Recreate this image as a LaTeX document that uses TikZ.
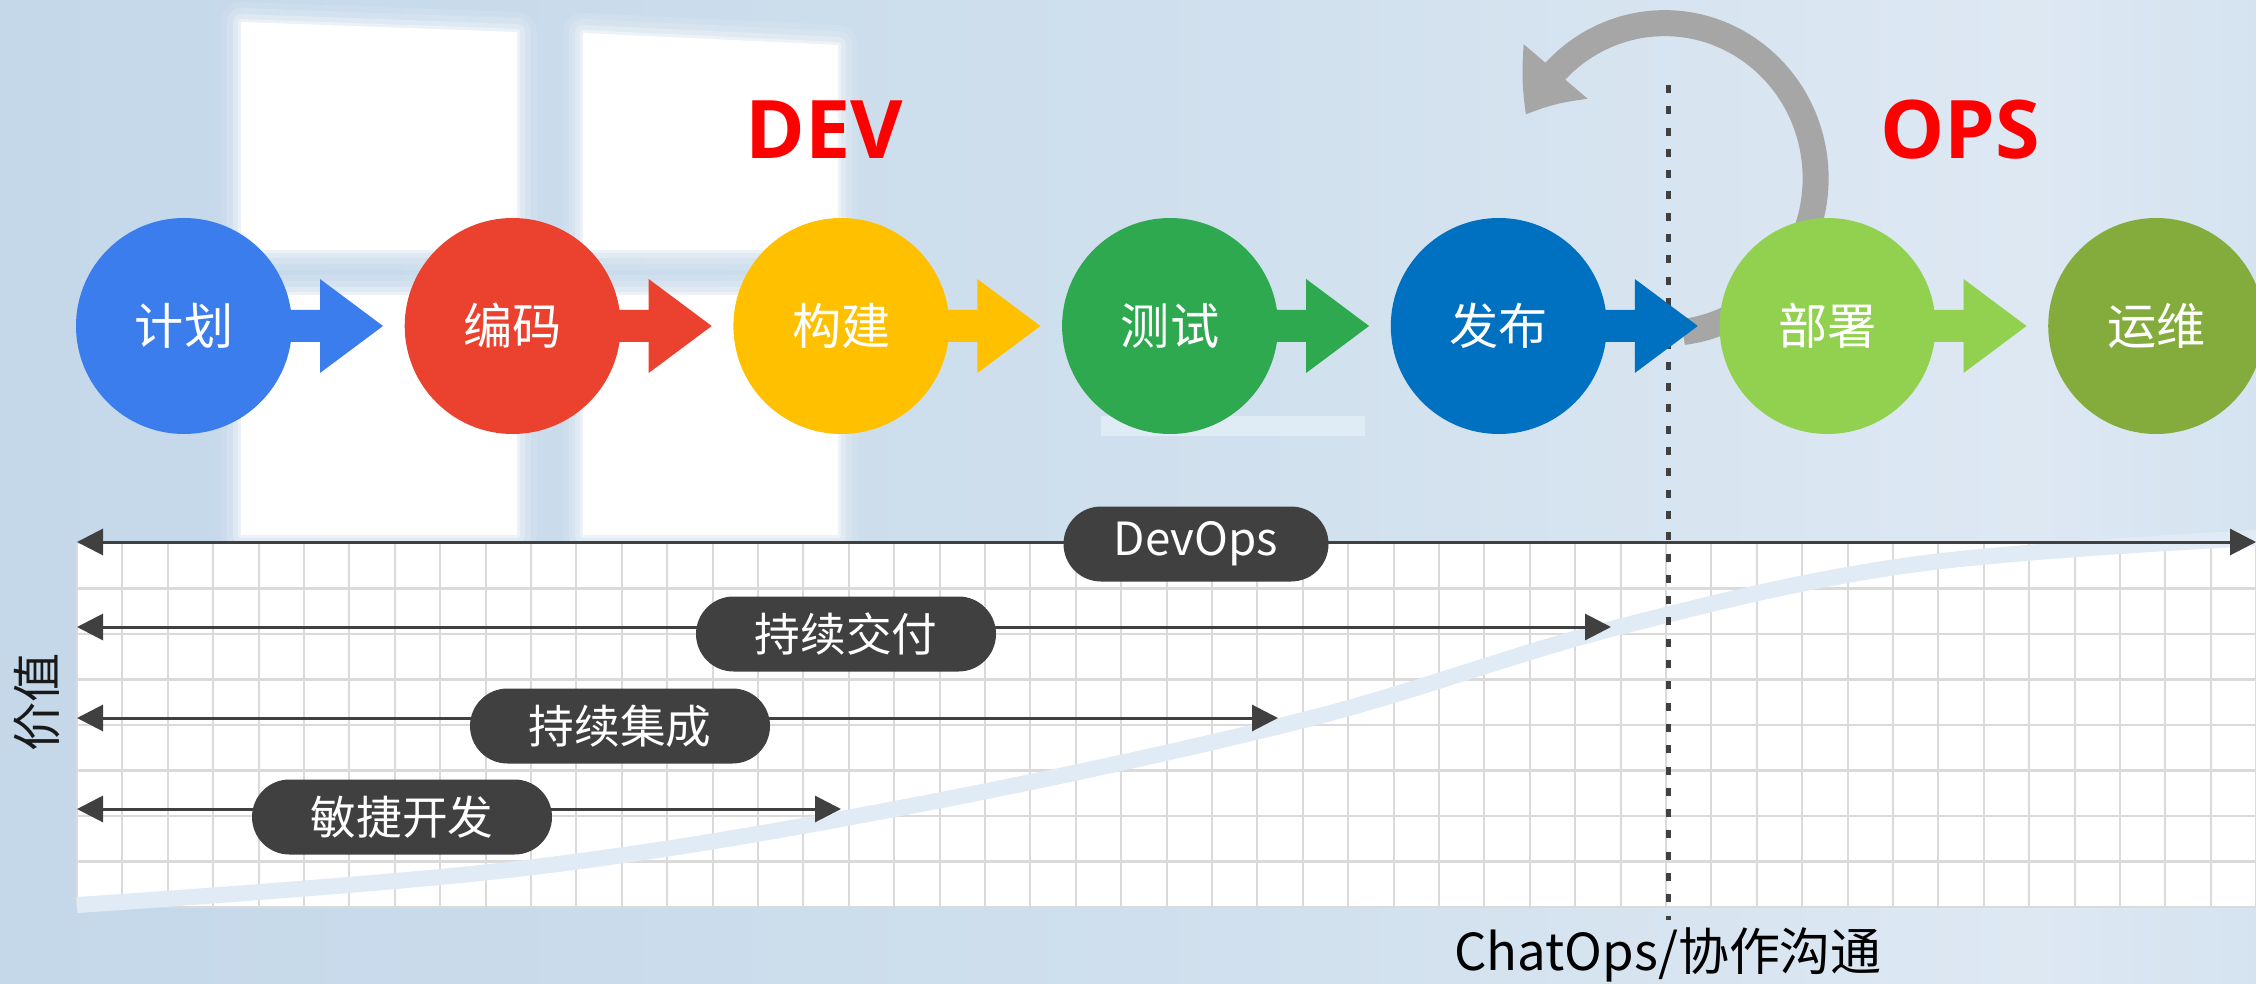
\documentclass[tikz,border=0pt]{standalone}
\usepackage{fontspec}
\setmainfont{Noto Sans CJK SC}
\newfontfamily\headfont{Open Sans}
\usetikzlibrary{positioning,arrows.meta,bending,shapes.misc}

\definecolor{wallA}{HTML}{BAD1E6}
\definecolor{wallB}{HTML}{CFDFED}
\definecolor{wallC}{HTML}{DDE8F3}
\definecolor{wallD}{HTML}{C4D8EA}
\definecolor{wallE}{HTML}{A0BEDA}
\definecolor{planblue}{HTML}{3B7DED}
\definecolor{codered}{HTML}{EB4230}
\definecolor{buildyellow}{HTML}{FFC000}
\definecolor{testgreen}{HTML}{2EA94F}
\definecolor{releaseblue}{HTML}{0070C0}
\definecolor{deploygreen}{HTML}{92D050}
\definecolor{opsolive}{HTML}{84AC3C}
\definecolor{pillgray}{HTML}{404040}
\definecolor{loopgray}{HTML}{A6A6A6}
\definecolor{gridline}{HTML}{DADADA}
\definecolor{valuecurve}{HTML}{E1EBF5}
\definecolor{barwhite}{HTML}{DFEBF5}

\pgfdeclarehorizontalshading{wallshade}{100bp}{color(0bp)=(wallA); color(50bp)=(wallB); color(70bp)=(wallC); color(86bp)=(wallD); color(100bp)=(wallE)}

\newcommand\windowpanes{(241,733) -- (517,733) -- (517,951) -- (241,961) -- cycle
  (583,733) -- (838,733) -- (838,938) -- (583,950) -- cycle
  (241,448) rectangle (517,688) (583,448) rectangle (838,688)}

\tikzset{
  stage/.style={circle, minimum size=21.6mm, inner sep=0pt, outer sep=0pt, text=white, font=\fontsize{14pt}{16pt}\selectfont},
  pill/.style={rounded rectangle, fill=pillgray, text=white, inner sep=0pt, minimum height=7.5mm, minimum width=30mm, font=\fontsize{13pt}{15pt}\selectfont},
  spanline/.style={draw=pillgray, line width=0.3mm, {Triangle[length=2.6mm,width=2.6mm]}-{Triangle[length=2.6mm,width=2.6mm]}},
  phase/.style={text=red, font=\headfont\bfseries\fontsize{23pt}{26pt}\selectfont}
}

\begin{document}
\begin{tikzpicture}[x=0.1mm, y=0.1mm]
\useasboundingbox (0,0) rectangle (2256,983);
\shade[shading=wallshade] (0,0) rectangle (2256,983);

% window in the background
\foreach \w/\o in {40/0.1,28/0.15,16/0.25,6/0.4}{
  \draw[white, opacity=\o, line width=\w*0.1mm, line join=round] \windowpanes;
}
\fill[white] \windowpanes;
\fill[barwhite] (1101,547) rectangle (1365,567);

% grid
\fill[white] (77,76) rectangle (2256,440);
\foreach \i in {0,...,48}
  \draw[gridline, line width=0.2mm] (77+\i*45.4,76) -- (77+\i*45.4,440);
\foreach \j in {0,...,8}
  \draw[gridline, line width=0.25mm] (77,76+\j*45.5) -- (2256,76+\j*45.5);

% value curve
\draw[valuecurve, line width=1.6mm] plot[smooth, tension=0.6] coordinates
  {(77,78) (517,114) (900,175) (1300,262) (1611,354) (1910,418) (2256,445)};

% separator
\coordinate (sepTop) at (1668,898);
\coordinate (sepBot) at (1668,63);
\draw[pillgray, line width=0.5mm, dash pattern=on 0.8mm off 1.33mm] (sepTop) -- (sepBot);

% loop arrow
\draw[loopgray, line width=2.6mm, -{Triangle[length=5.3mm,width=8mm,bend]}]
  (1683,651) arc[start angle=-83, end angle=156, x radius=151, y radius=155];

% pipeline
\node[stage, fill=planblue] (plan) at (184,657) {计划};
\node[stage, fill=codered, right=11.27mm of plan] (code) {编码};
\node[stage, fill=buildyellow, right=11.27mm of code] (build) {构建};
\node[stage, fill=testgreen, right=11.27mm of build] (test) {测试};
\node[stage, fill=releaseblue, right=11.27mm of test] (release) {发布};
\node[stage, fill=deploygreen, right=11.27mm of release] (deploy) {部署};
\node[stage, fill=opsolive, right=11.27mm of deploy] (operate) {运维};
\foreach \a/\col in {plan/planblue,code/codered,build/buildyellow,test/testgreen,release/releaseblue,deploy/deploygreen}
  \fill[\col] (\a.east) ++(-8,16) -- ++(36,0) -- ++(0,31) -- ++(63,-47) -- ++(-63,-47) -- ++(0,31) -- ++(-36,0) -- cycle;

\node[phase] (dev) at (824,853) {DEV};
\node[phase] (ops) at (1960,853) {OPS};

% spans
\coordinate (devopsL) at (77,441);  \coordinate (devopsR) at (2256,441);
\coordinate (cdL) at (77,356);      \coordinate (cdR) at (1611,356);
\coordinate (ciL) at (77,265);      \coordinate (ciR) at (1278,265);
\coordinate (agileL) at (77,174);   \coordinate (agileR) at (841,174);
\draw[spanline] (devopsL) -- (devopsR);
\draw[spanline] (cdL) -- (cdR);
\draw[spanline] (ciL) -- (ciR);
\draw[spanline] (agileL) -- (agileR);
\node[pill, minimum width=26.5mm] (devops) at (1196,439) {DevOps};
\node[pill] (cd) at (846,349) {持续交付};
\node[pill] (ci) at (620,257) {持续集成};
\node[pill] (agile) at (402,166) {敏捷开发};

\node[rotate=90, text=black!90, font=\fontsize{14pt}{16pt}\selectfont] (value) at (37,281) {价值};
\node[text=black, font=\fontsize{14.5pt}{17pt}\selectfont] (chat) at (1668,28) {ChatOps/协作沟通};
\end{tikzpicture}
\end{document}
